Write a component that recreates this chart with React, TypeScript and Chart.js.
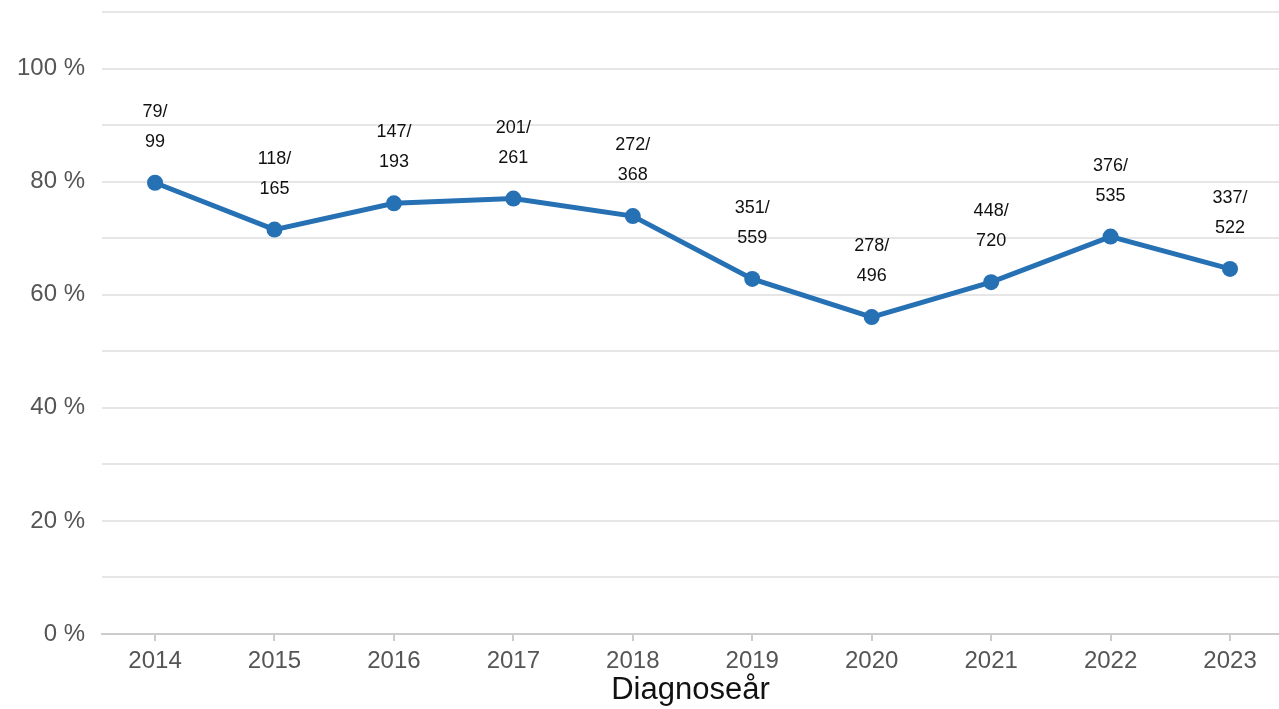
import React, { useEffect, useRef } from "react";
import { Chart, registerables } from "chart.js";

Chart.register(...registerables);

const years = [2014, 2015, 2016, 2017, 2018, 2019, 2020, 2021, 2022, 2023];
const numerators = [79, 118, 147, 201, 272, 351, 278, 448, 376, 337];
const denominators = [99, 165, 193, 261, 368, 559, 496, 720, 535, 522];
const percentValues = numerators.map((n, i) => (n / denominators[i]) * 100);
const yTickLabels = [0, 20, 40, 60, 80, 100];

const FONT = "'Liberation Sans', Arial, sans-serif";

const labelPlugin = {
  id: "fractionLabels",
  afterDatasetsDraw(chart: any) {
    const ctx = chart.ctx;
    const meta = chart.getDatasetMeta(0);
    ctx.save();
    ctx.font = `18px ${FONT}`;
    ctx.fillStyle = "#111";
    ctx.textAlign = "center";
    ctx.textBaseline = "middle";
    meta.data.forEach((pt: any, i: number) => {
      ctx.fillText(`${numerators[i]}/`, pt.x, pt.y - 71);
      ctx.fillText(`${denominators[i]}`, pt.x, pt.y - 41);
    });
    ctx.restore();
  },
};

export default function App() {
  const ref = useRef<HTMLCanvasElement | null>(null);
  useEffect(() => {
    document.body.style.margin = "0";
    const canvas = ref.current!;
    const chart = new Chart(canvas, {
      type: "line",
      data: {
        datasets: [
          {
            data: years.map((y, i) => ({ x: y, y: percentValues[i] })),
            borderColor: "#2670b4",
            backgroundColor: "#2670b4",
            borderWidth: 5,
            pointRadius: 8,
            pointBackgroundColor: "#2670b4",
            pointBorderWidth: 0,
            tension: 0,
            clip: false,
          },
        ],
      },
      options: {
        animation: false,
        responsive: false,
        maintainAspectRatio: false,
        layout: { autoPadding: false, padding: { left: 14, right: 0, top: 12, bottom: 0 } },
        plugins: { legend: { display: false }, tooltip: { enabled: false } },
        scales: {
          x: {
            type: "linear",
            min: 2013.556,
            max: 2023.41,
            afterBuildTicks: (axis: any) => {
              axis.ticks = years.map((v) => ({ value: v }));
            },
            afterFit: (axis: any) => {
              axis.height = 75;
              axis.paddingLeft = 0;
              axis.paddingRight = 0;
            },
            ticks: {
              font: { family: FONT, size: 24 },
              color: "#555",
              padding: 6,
              callback: (v: any) => String(v),
              maxRotation: 0,
              autoSkip: false,
            },
            grid: {
              drawOnChartArea: false,
              drawTicks: true,
              tickLength: 7,
              color: "#ccc",
              lineWidth: 2,
            },
            border: { display: true, color: "#ccc", width: 2 },
            title: {
              display: true,
              text: "Diagnoseår",
              font: { family: FONT, size: 31 },
              color: "#111",
              padding: { top: 0, bottom: 0 },
            },
          },
          y: {
            min: 0,
            max: 110,
            afterBuildTicks: (axis: any) => {
              const t = [];
              for (let v = 0; v <= 110; v += 10) t.push({ value: v });
              axis.ticks = t;
            },
            afterFit: (axis: any) => {
              axis.width = 88;
              axis.paddingTop = 0;
              axis.paddingBottom = 0;
            },
            ticks: {
              font: { family: FONT, size: 24 },
              color: "#555",
              padding: 17,
              autoSkip: false,
              callback: (v: any) => (yTickLabels.includes(v) ? `${v} %` : ""),
            },
            grid: { color: "#e6e6e6", lineWidth: 2, drawTicks: false },
            border: { display: false },
          },
        },
      },
      plugins: [labelPlugin],
    });
    return () => chart.destroy();
  }, []);
  return <canvas ref={ref} width={1279} height={709} style={{ display: "block" }} />;
}
